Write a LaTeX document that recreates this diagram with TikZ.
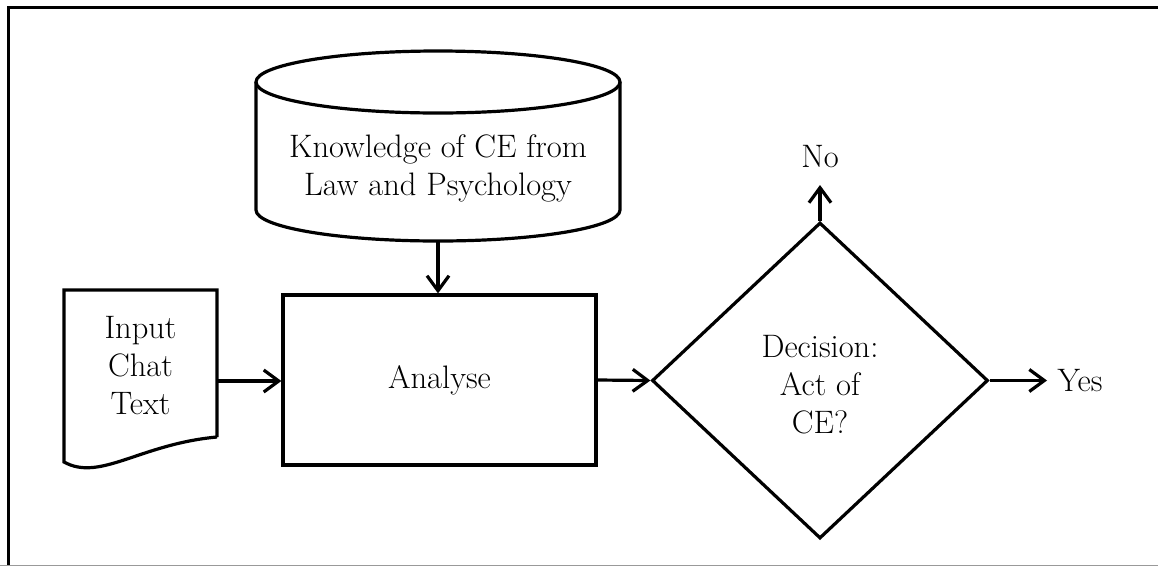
\documentclass[tikz,border=0pt]{standalone}
\usetikzlibrary{arrows.meta,shapes.geometric}
\begin{document}
\begin{tikzpicture}[x=1pt,y=-1pt,
  line width=3.2pt,
  txt/.style={align=center,font=\fontsize{32.5}{38}\selectfont,inner sep=0pt},
  flow/.style={-{Straight Barb[length=15pt,width=22pt,line width=3.2pt]}},
  proc/.style={draw,rectangle,minimum width=313pt,minimum height=170pt,inner sep=0pt},
  decide/.style={draw,diamond,minimum width=336pt,minimum height=316pt,inner sep=0pt}]
\useasboundingbox (0,0) rectangle (1158,566);

% frame
\draw[line width=3pt] (1158,7) -- (8.5,7) -- (8.5,566);
\draw[line width=1.2pt,gray!80] (0,565.2) -- (1158,565.2);

% knowledge store (cylinder)
\draw (256,82) -- (256,210) arc[start angle=180,end angle=0,x radius=182,y radius=31] -- (620,82);
\draw (438,82) ellipse[x radius=182,y radius=31];
\node[txt] (kb) at (438,168) {Knowledge of CE from\\Law and Psychology};
\coordinate (kbbot) at (438,241);

% input document
\draw (217,437) -- (217,290) -- (64,290) -- (64,462)
  .. controls (100,482) and (140,444) .. (217,437);
\node[txt] (doc) at (140.5,366) {Input\\Chat\\Text};
\coordinate (docout) at (217,381);

% analysis step
\node[proc] (an) at (439.5,380) {};
\node[txt] (antext) at (an.center) {Analyse};

% decision
\node[decide] (dec) at (820,380.5) {};
\node[txt] (dectext) at (820,385) {Decision:\\Act of\\CE?};

% outcomes
\coordinate (noend) at (820,185);
\coordinate (yesend) at (1047,380.5);
\node[txt,anchor=south] (no) at (820,169) {No};
\node[txt,anchor=west] (yes) at (1056,380.5) {Yes};

% connectors
\draw[flow] (kbbot) -- (an.north -| kbbot);
\draw[flow] (docout) -- (an.west |- docout);
\draw[flow] (an.east) -- (dec.west);
\draw[flow] (dec.north) -- (noend);
\draw[flow] (dec.east) -- (yesend);
\end{tikzpicture}
\end{document}
